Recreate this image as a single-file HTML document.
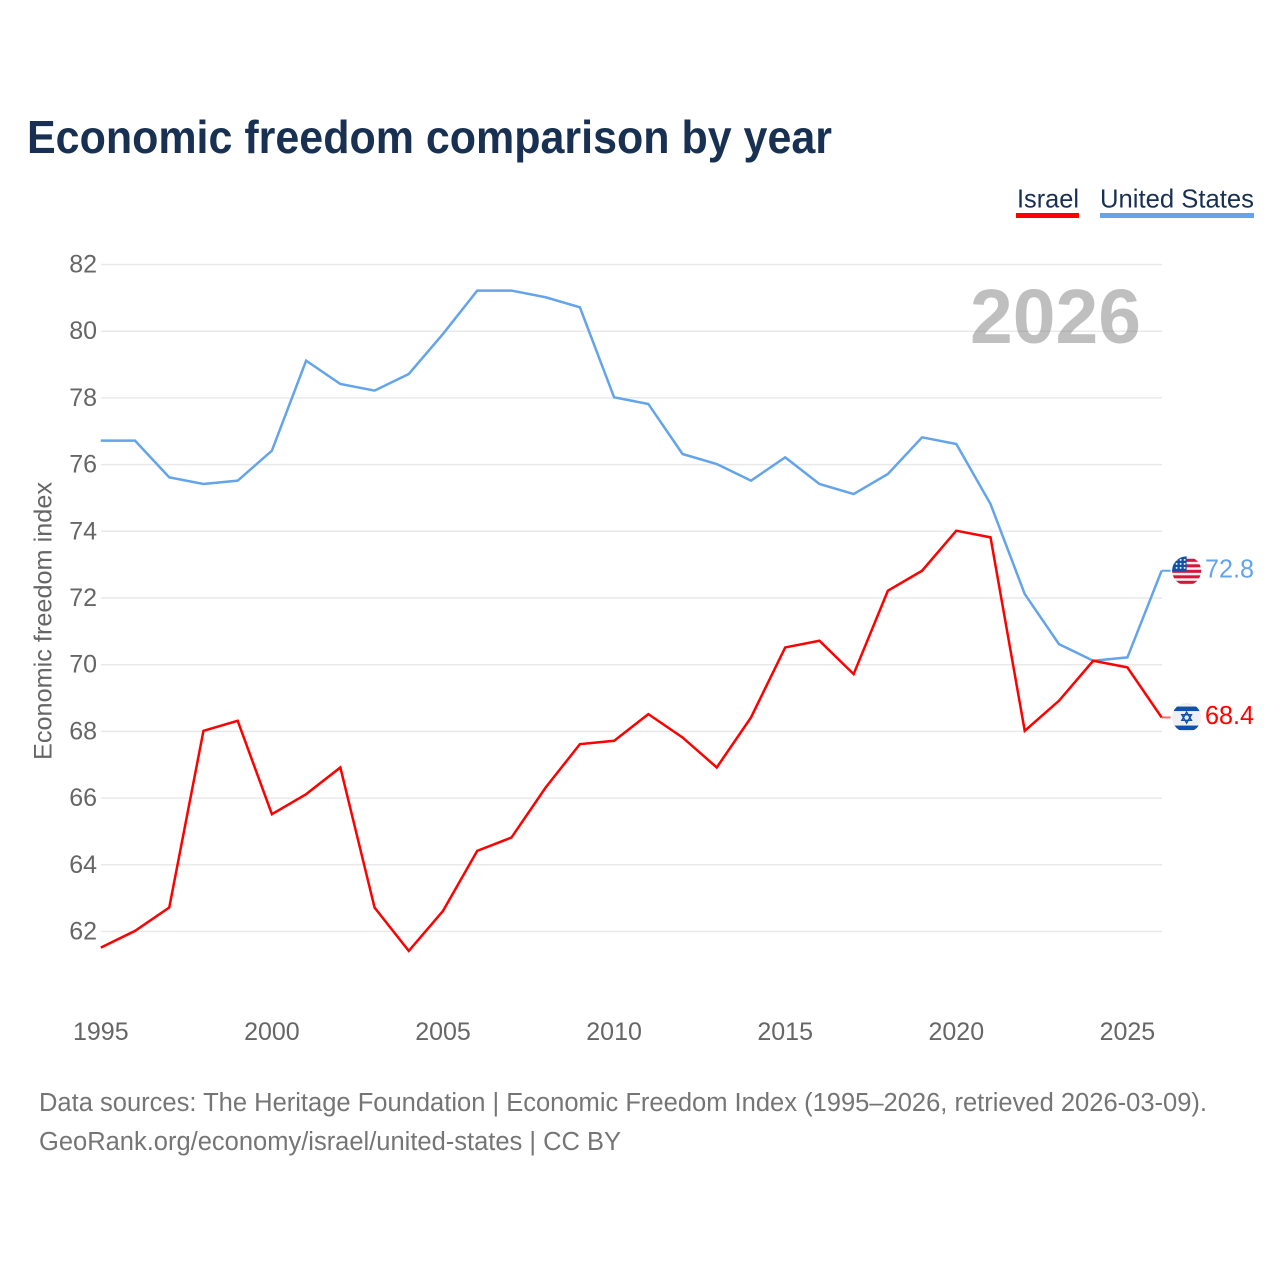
<!DOCTYPE html>
<html lang="en">
<head>
<meta charset="utf-8">
<title>Economic freedom comparison by year</title>
<style>
html,body{margin:0;padding:0;background:#fff;width:1280px;height:1280px;overflow:hidden}
svg{display:block}
text{font-family:"Liberation Sans",sans-serif}
</style>
</head>
<body>
<svg id="chart" xmlns="http://www.w3.org/2000/svg" width="1280" height="1280" viewBox="0 0 1280 1280">
  <defs>
    <clipPath id="us-clip"><circle cx="0" cy="0" r="14.5"></circle></clipPath>
    <clipPath id="il-clip"><circle cx="0" cy="0" r="14.5"></circle></clipPath>
  </defs>
  <rect width="1280" height="1280" fill="#fff"></rect>
  <text x="27" y="153" font-size="46" font-weight="700" fill="#183152" textLength="805" lengthAdjust="spacingAndGlyphs">Economic freedom comparison by year</text>

  <g>
    <g>
      <text x="1017" y="207.5" font-size="26" fill="#183152" textLength="62" lengthAdjust="spacingAndGlyphs">Israel</text>
      <rect x="1016" y="213" width="63" height="5" fill="#ff0000"></rect>
    </g>
    <g>
      <text x="1100" y="207.5" font-size="26" fill="#183152" textLength="154" lengthAdjust="spacingAndGlyphs">United States</text>
      <rect x="1100" y="213" width="154" height="5" fill="#63a4ea"></rect>
    </g>
  </g>

  <g id="grid"></g>
  <g id="y-ticks"></g>
  <g id="x-ticks"></g>

  <text transform="translate(51.5 621) rotate(-90)" text-anchor="middle" font-size="25" fill="#666" textLength="278" lengthAdjust="spacingAndGlyphs">Economic freedom index</text>
  <text x="970" y="343" font-size="77" font-weight="700" fill="#808080" fill-opacity="0.5" textLength="171" lengthAdjust="spacingAndGlyphs">2026</text>

  <g id="series"></g>
  <g id="end-labels"></g>

  <text x="39" y="1111" font-size="25.5" fill="#757575" textLength="1168" lengthAdjust="spacingAndGlyphs">Data sources: The Heritage Foundation | Economic Freedom Index (1995–2026, retrieved 2026-03-09).</text>
  <text x="39" y="1150" font-size="25.5" fill="#757575" textLength="582" lengthAdjust="spacingAndGlyphs">GeoRank.org/economy/israel/united-states | CC BY</text>
</svg>
<script>
const years = [1995,1996,1997,1998,1999,2000,2001,2002,2003,2004,2005,2006,2007,2008,2009,2010,2011,2012,2013,2014,2015,2016,2017,2018,2019,2020,2021,2022,2023,2024,2025,2026];
const israelValues = [61.5,62.0,62.7,68.0,68.3,65.5,66.1,66.9,62.7,61.4,62.6,64.4,64.8,66.3,67.6,67.7,68.5,67.8,66.9,68.4,70.5,70.7,69.7,72.2,72.8,74.0,73.8,68.0,68.9,70.1,69.9,68.4];
const unitedStatesValues = [76.7,76.7,75.6,75.4,75.5,76.4,79.1,78.4,78.2,78.7,79.9,81.2,81.2,81.0,80.7,78.0,77.8,76.3,76.0,75.5,76.2,75.4,75.1,75.7,76.8,76.6,74.8,72.1,70.6,70.1,70.2,72.8];
const yTickLabels = [62,64,66,68,70,72,74,76,78,80,82];
const xTickLabels = [1995,2000,2005,2010,2015,2020,2025];

const NS = 'http://www.w3.org/2000/svg';
const xAxis = function (year) { return 100.8 + (year - 1995) * 34.22; };
const yAxis = function (value) { return 264.5 + (82 - value) * 33.35; };
const make = function (tag, parent, attrs) {
  const node = document.createElementNS(NS, tag);
  Object.keys(attrs).forEach(function (k) { node.setAttribute(k, attrs[k]); });
  parent.appendChild(node);
  return node;
};

const gridGroup = document.getElementById('grid');
const yTickGroup = document.getElementById('y-ticks');
yTickLabels.forEach(function (tick) {
  const line = make('line', gridGroup, {x1: 101, x2: 1162, y1: yAxis(tick), y2: yAxis(tick), stroke: '#e9e9e9', 'stroke-width': 1.5});
  
  
  const label = make('text', yTickGroup, {x: 97, y: yAxis(tick) + 8, 'text-anchor': 'end', 'font-size': 25, fill: '#666'});
  
  
  label.textContent = tick;
});

const xTickGroup = document.getElementById('x-ticks');
xTickLabels.forEach(function (tick) {
  const label = make('text', xTickGroup, {x: xAxis(tick), y: 1040, 'text-anchor': 'middle', 'font-size': 25, fill: '#666'});
  
  
  label.textContent = tick;
});

const seriesGroup = document.getElementById('series');
const pointsOf = function (values) {
  return values.map(function (v, i) { return xAxis(years[i]).toFixed(2) + ',' + (yAxis(v) - 0.6).toFixed(2); }).join(' ');
};

const usLine = make('polyline', seriesGroup, {points: pointsOf(unitedStatesValues), fill: 'none', stroke: '#63a4ea', 'stroke-width': 2.5, 'stroke-linejoin': 'miter'});



const israelLine = make('polyline', seriesGroup, {points: pointsOf(israelValues), fill: 'none', stroke: '#ff0000', 'stroke-width': 2.5, 'stroke-linejoin': 'miter'});



const endGroup = document.getElementById('end-labels');
const lastYearX = xAxis(years[years.length - 1]);
const lastUS = unitedStatesValues[unitedStatesValues.length - 1];
const lastIL = israelValues[israelValues.length - 1];

const usConnector = make('line', endGroup, {x1: lastYearX, x2: lastYearX + 9, y1: yAxis(lastUS) - 0.6, y2: yAxis(lastUS) - 0.6, stroke: '#63a4ea', 'stroke-width': 2});



const ilConnector = make('line', endGroup, {x1: lastYearX, x2: lastYearX + 9, y1: yAxis(lastIL) - 0.6, y2: yAxis(lastIL) - 0.6, stroke: '#ff0000', 'stroke-opacity': 0.6, 'stroke-width': 2});



/* United States flag */
const usFlag = make('g', endGroup, {transform: 'translate(' + (lastYearX + 25) + ' ' + (yAxis(lastUS) - 0.5) + ')', 'clip-path': 'url(#us-clip)'});


make('rect', usFlag, {x: -15, y: -15, width: 30, height: 30, fill: '#f1f1f1'});
[-12, -6.5, -1, 4.5, 10].forEach(function (offset) {
  make('rect', usFlag, {x: -15, y: offset, width: 30, height: 3, fill: '#d8143a'});
});
make('rect', usFlag, {x: -15, y: -15, width: 15, height: 15.5, fill: '#0f52ab'});
[-10, -6, -2].forEach(function (col) {
  [-11, -7, -3].forEach(function (row) {
    make('circle', usFlag, {cx: col, cy: row, r: 1, fill: '#e8eef7'});
  });
});

/* Israel flag */
const ilFlag = make('g', endGroup, {transform: 'translate(' + (lastYearX + 25) + ' ' + (yAxis(lastIL) - 0.5) + ')', 'clip-path': 'url(#il-clip)'});


make('rect', ilFlag, {x: -15, y: -15, width: 30, height: 30, fill: '#f0f0f0'});
make('rect', ilFlag, {x: -15, y: -11, width: 30, height: 4.5, fill: '#0f52ab'});
make('rect', ilFlag, {x: -15, y: 8, width: 30, height: 4.5, fill: '#0f52ab'});
make('path', ilFlag, {d: 'M0 -5.5 L4.8 2.8 L-4.8 2.8 Z M0 5.5 L-4.8 -2.8 L4.8 -2.8 Z', fill: 'none', stroke: '#0f52ab', 'stroke-width': 1.4});

const usValueLabel = make('text', endGroup, {x: 1205, y: yAxis(lastUS) + 6, 'font-size': 25.5, fill: '#63a4ea', textLength: 49, lengthAdjust: 'spacingAndGlyphs'});


usValueLabel.textContent = lastUS.toFixed(1);

const ilValueLabel = make('text', endGroup, {x: 1205, y: yAxis(lastIL) + 6, 'font-size': 25.5, fill: '#ff0000', textLength: 49, lengthAdjust: 'spacingAndGlyphs'});


ilValueLabel.textContent = lastIL.toFixed(1);
</script>
</body>
</html>
